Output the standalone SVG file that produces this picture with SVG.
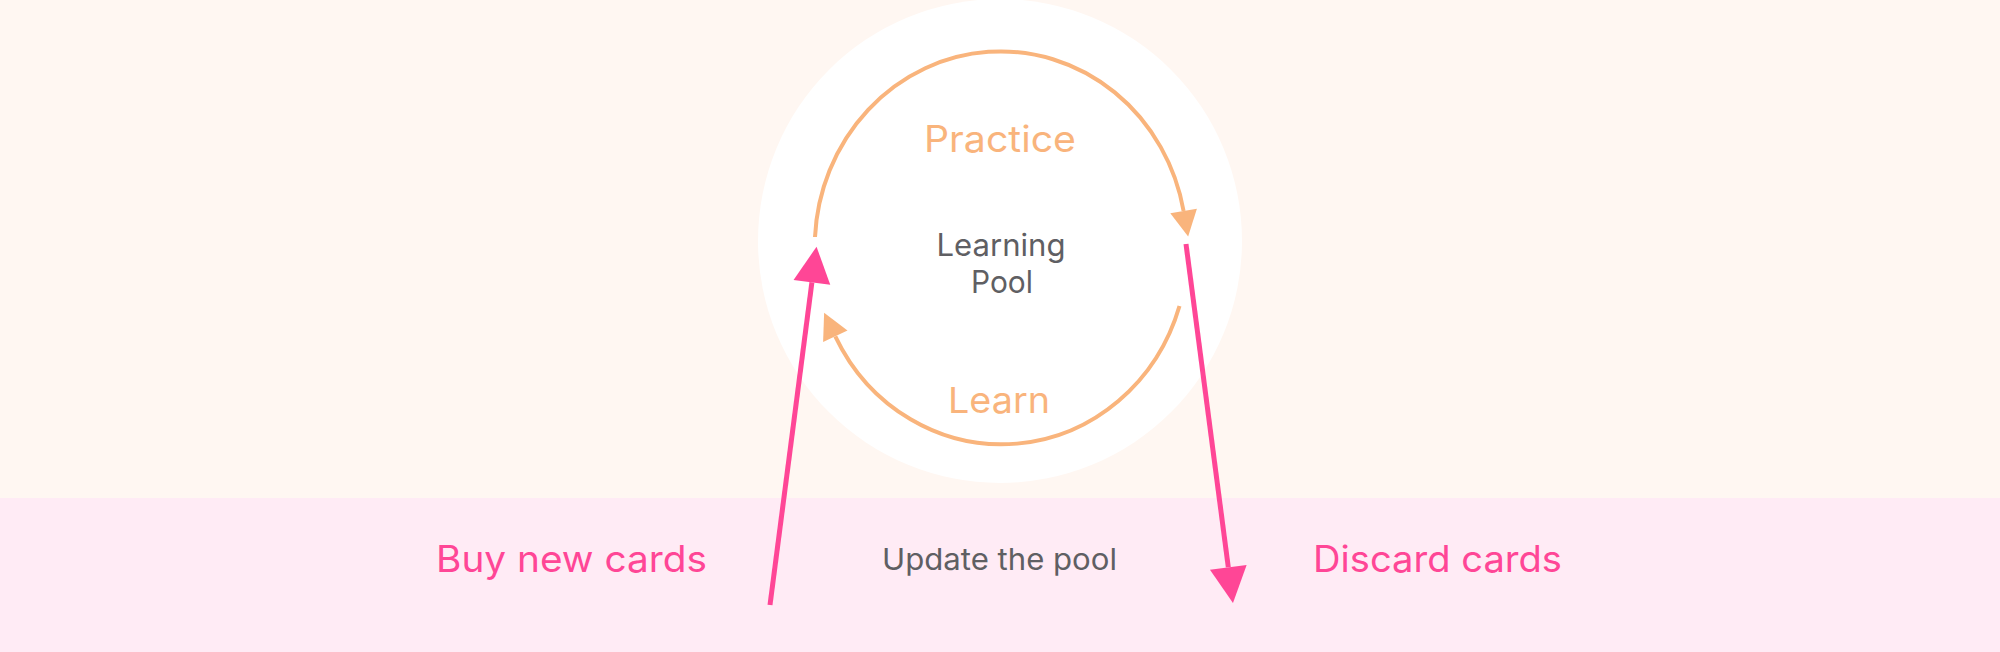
<svg xmlns="http://www.w3.org/2000/svg" width="2000" height="652" viewBox="0 0 2000 652">
<style>
.t{font-family:Inter,"Open Sans","Liberation Sans",sans-serif;text-anchor:middle}
.orange{fill:#F9B47C}
.pink{fill:#FF4696}
.gray{fill:#5F5F63}
.arcline{fill:none;stroke:#F9B47C;stroke-width:4}
.pinkline{fill:none;stroke:#FF4696;stroke-width:5}
</style>
<defs>
<marker id="ah-o" markerUnits="userSpaceOnUse" viewBox="0 -14 26 28" refX="0" refY="0" markerWidth="26" markerHeight="28" orient="auto" overflow="visible">
<path d="M0,-13.5 L26,0 L0,13.5 Z" fill="#F9B47C"/>
</marker>
<marker id="ah-p" markerUnits="userSpaceOnUse" viewBox="0 -19 36 38" refX="0" refY="0" markerWidth="36" markerHeight="38" orient="auto" overflow="visible">
<path d="M0,-18.5 L36,0 L0,18.5 Z" fill="#FF4696"/>
</marker>
</defs>
<rect x="0" y="0" width="2000" height="498" fill="#FFF7F2"/>
<rect x="0" y="498" width="2000" height="154" fill="#FFEBF5"/>
<g id="pool">
<circle cx="1000" cy="241" r="242" fill="#FFFFFF"/>
<text class="t gray" x="1001" y="256" font-size="31" textLength="129" lengthAdjust="spacingAndGlyphs">Learning</text>
<text class="t gray" x="1002" y="293" font-size="31" textLength="62" lengthAdjust="spacingAndGlyphs">Pool</text>
</g>
<g id="practice">
<text class="t orange" x="1000" y="152" font-size="37" textLength="152" lengthAdjust="spacingAndGlyphs">Practice</text>
</g>
<g id="learn">
<text class="t orange" x="999" y="413" font-size="36" textLength="102" lengthAdjust="spacingAndGlyphs">Learn</text>
</g>
<g id="buy">
<text class="t pink" x="571.5" y="572" font-size="37" textLength="271" lengthAdjust="spacingAndGlyphs">Buy new cards</text>
</g>
<g id="update">
<text class="t gray" x="999.5" y="570" font-size="30" textLength="235" lengthAdjust="spacingAndGlyphs">Update the pool</text>
</g>
<g id="discard">
<text class="t pink" x="1437.5" y="572" font-size="37" textLength="249" lengthAdjust="spacingAndGlyphs">Discard cards</text>
</g>
<g id="connectors">
<path class="arcline" d="M815 237 A186 195.5 0 0 1 1183.6 211" marker-end="url(#ah-o)"/>
<path class="arcline" d="M1179.5 306 A186 195.5 0 0 1 835.3 336.3" marker-end="url(#ah-o)"/>
<path class="pinkline" d="M770 605 L811.9 282.4" marker-end="url(#ah-p)"/>
<path class="pinkline" d="M1186 244 L1228.3 567.3" marker-end="url(#ah-p)"/>
</g>
</svg>
